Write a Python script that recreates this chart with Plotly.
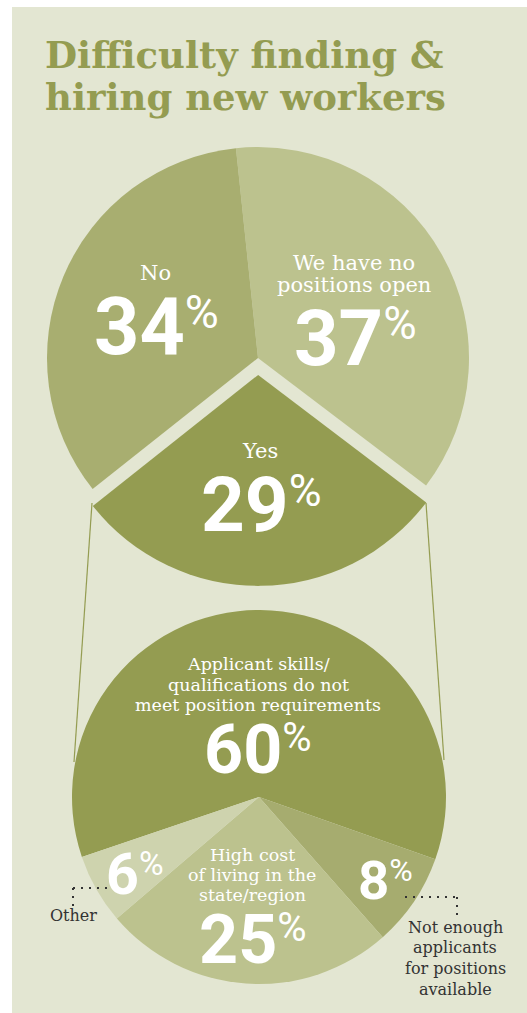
import plotly.graph_objects as go

W, H = 527, 1013

# ---------------- data ----------------
top_labels = ["We have no positions open", "Yes", "No"]
top_values = [37, 29, 34]
top_colors = ["#bcc28e", "#949c51", "#a8ae70"]

bot_labels = ["Applicant skills/ qualifications do not meet position requirements",
              "Not enough applicants for positions available",
              "High cost of living in the state/region",
              "Other"]
bot_values = [60, 8, 25, 6]
bot_colors = ["#949c51", "#a6ac6f", "#bcc28e", "#ced3ae"]

title_lines = ["Difficulty finding &", "hiring new workers"]

PANEL = "#e3e6d2"
OLIVE = "#949c51"
DARK = "#333333"
SERIF = "DejaVu Serif, Liberation Serif, serif"
NUMF = "Roboto, Liberation Sans, sans-serif"


def px(x):
    return x / W


def py(y):
    return 1 - y / H


def dom(cx, cy, r):
    return dict(x=[px(cx - r), px(cx + r)], y=[py(cy + r), py(cy - r)])


fig = go.Figure()

# top pie: centre (258,358) radius 211, "Yes" pulled out
pull = 0.08
fig.add_trace(go.Pie(
    labels=top_labels, values=top_values, sort=False, direction="clockwise",
    rotation=-6, pull=[0, pull, 0],
    marker=dict(colors=top_colors, line=dict(width=0)),
    textinfo="none", hoverinfo="label+percent", showlegend=False,
    domain=dom(258, 358, 211 * (1 + pull)),
))

# bottom pie: centre (259,797) radius 187
fig.add_trace(go.Pie(
    labels=bot_labels, values=bot_values, sort=False, direction="clockwise",
    rotation=-108.7,
    marker=dict(colors=bot_colors, line=dict(width=0)),
    textinfo="none", hoverinfo="label+value", showlegend=False,
    domain=dom(259, 797, 187),
))

DOTS = "2px,6px"
shapes = [
    dict(type="rect", xref="paper", yref="paper", x0=px(12), x1=1.01, y0=-0.01, y1=py(7),
         fillcolor=PANEL, line=dict(width=0), layer="below"),
    dict(type="line", xref="paper", yref="paper", x0=px(92), y0=py(503), x1=px(74), y1=py(762),
         line=dict(color=OLIVE, width=1.2), layer="below"),
    dict(type="line", xref="paper", yref="paper", x0=px(426), y0=py(503), x1=px(444), y1=py(760),
         line=dict(color=OLIVE, width=1.2), layer="below"),
    # dotted leaders
    dict(type="line", xref="paper", yref="paper", x0=px(73), y0=py(888), x1=px(108), y1=py(888),
         line=dict(color=DARK, width=2, dash=DOTS)),
    dict(type="line", xref="paper", yref="paper", x0=px(73), y0=py(888), x1=px(73), y1=py(906),
         line=dict(color=DARK, width=2, dash=DOTS)),
    dict(type="line", xref="paper", yref="paper", x0=px(405), y0=py(897), x1=px(460), y1=py(897),
         line=dict(color=DARK, width=2, dash=DOTS)),
    dict(type="line", xref="paper", yref="paper", x0=px(457), y0=py(897), x1=px(457), y1=py(915),
         line=dict(color=DARK, width=2, dash=DOTS)),
]

ann = []


def text(x, y, s, size, color="white", family=SERIF, xanchor="center", yanchor="middle"):
    ann.append(dict(x=px(x), y=py(y), xref="paper", yref="paper", text=s, showarrow=False,
                    xanchor=xanchor, yanchor=yanchor, align="center", borderpad=0,
                    font=dict(family=family, size=size, color=color)))


def lines(x, y0, rows, size, gap, color="white"):
    for i, r in enumerate(rows):
        text(x, y0 + i * gap, r, size, color=color)


def pct(xc, top, h, value):
    # big digits with a raised, smaller % sign, centred on xc
    size = h / 0.711 * 0.97
    ps = 0.57 * h / 0.711
    shift = 0.45 * h
    s = ("<b>%d</b><span style='font-size:%.1fpx;baseline-shift:%.1fpx'>%%</span>"
         % (value, ps, shift))
    text(xc, top - 0.23 * size, s, size, family=NUMF, yanchor="top")


# title
text(44, 55, "<b>" + title_lines[0] + "</b>", 37, color=OLIVE, xanchor="left")
text(44, 97, "<b>" + title_lines[1] + "</b>", 37, color=OLIVE, xanchor="left")

# top pie labels
text(155, 273, top_labels[2], 21)
pct(156, 298, 58, top_values[2])
lines(354, 263, ["We have no", "positions open"], 21, 22)
pct(355, 310, 57, top_values[0])
text(260, 451, top_labels[1], 21)
pct(261, 477, 56, top_values[1])

# bottom pie labels
lines(258, 664, ["Applicant skills/", "qualifications do not", "meet position requirements"], 17.5, 20.5)
pct(258, 725, 50, bot_values[0])
pct(135, 853, 42, bot_values[3])
lines(252, 855, ["High cost", "of living in the", "state/region"], 17.5, 20)
pct(253, 915, 50, bot_values[2])
pct(385, 860, 40, bot_values[1])

text(73, 915, bot_labels[3], 16, color=DARK)
lines(455, 927, ["Not enough", "applicants", "for positions", "available"], 16, 20.8, color=DARK)

fig.update_layout(
    width=W, height=H, margin=dict(l=0, r=0, t=0, b=0),
    paper_bgcolor="white", plot_bgcolor="white",
    shapes=shapes, annotations=ann, showlegend=False,
)

fig.write_html("out.html", config={"displayModeBar": False},
               post_script="document.body.style.margin='0';document.body.style.overflow='hidden';")
